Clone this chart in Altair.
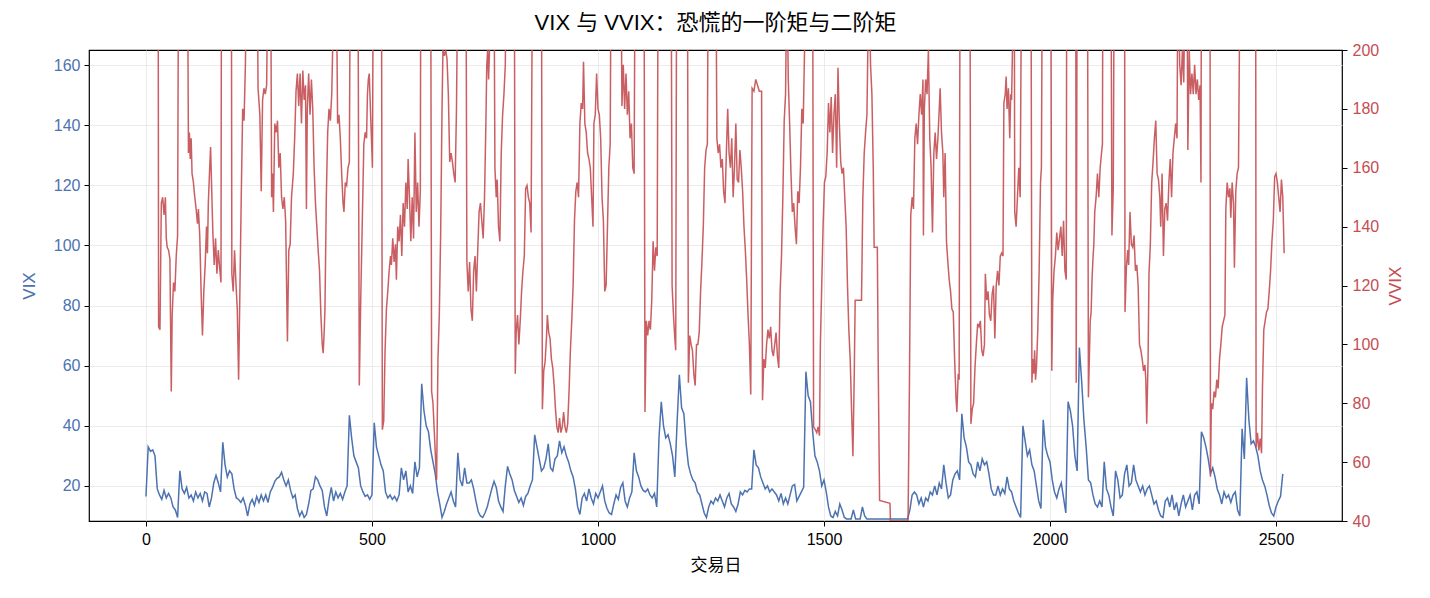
import altair as alt
import pandas as pd

# VIX close, one value every 5 trading days (day 0, 5, 10, ... 2515)
VIX_STEP = 5
VIX = [
    16.5, 33, 31.5, 32, 30, 19, 17, 15.5, 18.5, 16, 17.5, 16, 13, 12, 9.5, 25, 19, 17.5, 19.5, 16,
    17, 15, 18, 16, 17.5, 15, 18, 17.5, 13, 16, 21, 23.5, 21, 18, 34.5, 27, 23, 25, 24, 19,
    16, 15.5, 14.5, 16, 13.5, 10, 14, 15.5, 13.5, 16.5, 14.5, 17, 15, 17, 14.5, 18, 19.5, 21.5, 22.5, 23,
    24.5, 22, 20, 22, 18.5, 16, 17, 12.5, 10, 11.5, 9.5, 10.5, 14, 18.5, 19, 23, 22, 20, 18.5, 13,
    10, 15.5, 19.5, 15, 18, 16, 17.5, 15.5, 18, 20, 43.5, 36, 30, 28, 26, 20, 18, 16.5, 17, 15.5,
    17, 41, 33, 30, 27, 25, 18, 16, 17, 15.5, 16.5, 15, 17, 26, 22, 25, 18, 20, 17.5, 28,
    23, 26, 54, 45, 40, 38, 32, 28, 24, 18, 14, 9.5, 11.5, 14, 16, 18, 15, 13, 31, 22,
    20, 26, 21, 21, 22, 19, 15, 11.5, 10, 9.5, 11, 13, 16, 19, 21.5, 19.5, 15, 13, 11.5, 20,
    26.5, 24, 22, 18.5, 16.5, 14.5, 16, 13.5, 16.5, 17.5, 20, 22, 37, 33, 29, 25, 26, 29, 34, 26,
    25, 29, 30, 35, 31, 33, 30, 28, 25, 23, 19, 13, 10.5, 16, 17.5, 15, 19, 16, 14, 17.5,
    16, 18, 20, 15, 12.5, 11, 10.5, 14, 17, 15.5, 19.5, 21, 15, 13, 16, 18, 31, 25, 23, 20,
    18.5, 18, 19, 17, 16, 17.5, 13, 36, 48, 40, 36, 37, 34, 30, 23, 41, 57, 46, 44, 34,
    27, 24, 22, 21, 18, 17, 14, 11, 9.5, 13, 15, 14, 16, 15, 17, 15, 13, 16, 17.5, 14,
    13, 11.5, 14, 18, 17, 18.5, 18, 19, 19, 32, 27, 26, 23, 21, 19, 20, 18, 19, 18, 17,
    15, 17.5, 14, 16, 14, 17, 20, 20.5, 15, 16.5, 18, 19.5, 58, 50, 48, 38, 30, 28, 25, 20,
    22, 18, 13, 10, 9.5, 11.5, 10, 14, 12, 9.5, 9, 9, 9, 12, 9, 9, 9, 13, 10, 9,
    9, 9, 9, 9, 9, 9, 9, 9, 9, 9, 9, 9, 9, 9, 9, 9, 9, 9, 12, 17,
    18, 17, 14, 16, 13, 16, 15, 18, 17, 20, 17, 21, 19, 27, 21, 16, 17, 22, 24, 25,
    22, 44, 36, 33, 28, 27, 24, 23, 28, 25, 29, 27, 28, 24, 19, 17, 17, 20, 17, 19,
    17.5, 23, 19, 18, 15, 13, 11, 9.5, 40, 35, 30, 32, 27, 25, 20, 15, 12.5, 42, 33, 30,
    28, 22, 18, 16, 19, 21, 16, 11, 48, 45, 40, 30, 25, 66, 55, 42, 33, 22, 21, 17,
    14, 13, 15, 13, 28, 19, 17, 13, 10, 25, 22, 16, 17, 24, 27, 20, 21, 27, 22, 20,
    18, 20, 17, 19, 20, 17, 14, 15, 12, 10, 9.5, 15, 16, 13, 17, 12, 14.5, 10, 14, 17,
    13, 15, 17, 12, 17, 18, 14, 38, 36, 33, 29, 24, 26, 23, 19, 17, 14, 18, 16, 17,
    14.5, 17, 18, 12, 10, 39, 29, 56, 42, 34, 35, 33, 30, 25, 22, 20, 17, 13.5, 11, 10,
    13, 15, 16.5, 24,
]

# VVIX turning points (day, level); readings above 200 run off the top of the panel
VVIX_POINTS = [
    (27, 230), (28, 106), (31, 105), (34, 148), (37, 150), (40, 144), (43, 150), (45, 136), (47, 133),
    (50, 132), (53, 129), (56, 84), (58, 110), (61, 121), (64, 118), (67, 130), (70, 137), (72, 230),
    (92, 230), (94, 165), (96, 172), (98, 163), (100, 170), (102, 158), (105, 155), (108, 150), (111, 146),
    (114, 141), (116, 146), (119, 137), (122, 118), (125, 103), (128, 118), (131, 127), (134, 140),
    (136, 131), (138, 148), (141, 160), (143, 167), (145, 155), (148, 138), (151, 127), (154, 136),
    (157, 124), (160, 132), (163, 126), (166, 121), (167, 230),
    (189, 230), (190, 124), (193, 118), (196, 132), (199, 121), (202, 112), (205, 88), (208, 120),
    (211, 152), (214, 180), (217, 176), (220, 195), (223, 230),
    (246, 230), (248, 187), (252, 178), (255, 152), (258, 183), (261, 187), (264, 185), (267, 188), (270, 230),
    (276, 230), (278, 150), (280, 158), (282, 145), (285, 175), (288, 172), (291, 176), (294, 160),
    (297, 165), (300, 150), (303, 146), (306, 150), (309, 142), (313, 101), (316, 132), (319, 134),
    (322, 150), (326, 158), (329, 170), (332, 186), (335, 192), (338, 181), (341, 192), (344, 175),
    (347, 193), (350, 183), (353, 188), (355, 146), (357, 180), (360, 192), (363, 178), (366, 190),
    (369, 180), (372, 160), (375, 148), (378, 140), (381, 132), (384, 125), (387, 110), (390, 100),
    (392, 97), (394, 103), (396, 112), (399, 150), (402, 172), (405, 180), (408, 176), (411, 185),
    (413, 200), (415, 230),
    (421, 230), (424, 175), (427, 178), (430, 170), (433, 158), (436, 148), (438, 145), (441, 155),
    (444, 154), (447, 160), (450, 162), (452, 230),
    (469, 230), (472, 86), (475, 114), (479, 145), (482, 168), (485, 172), (488, 170), (490, 185),
    (492, 190), (494, 192), (497, 178), (500, 165), (501, 160), (503, 230),
    (521, 230), (523, 71), (526, 74), (529, 98), (532, 112), (535, 118), (538, 125), (541, 130),
    (543, 127), (546, 136), (549, 128), (552, 134), (554, 122), (557, 140), (560, 135), (563, 144),
    (566, 130), (569, 148), (572, 140), (575, 155), (578, 146), (580, 163), (583, 150), (586, 135),
    (589, 150), (592, 136), (595, 172), (598, 145), (601, 155), (604, 140), (607, 152), (608, 230),
    (630, 230), (632, 84), (635, 80), (638, 70), (641, 60), (643, 54), (646, 95), (649, 110),
    (652, 138), (655, 180), (657, 200), (660, 198), (663, 200), (666, 197), (669, 185), (672, 162),
    (675, 165), (678, 162), (681, 158), (684, 155), (687, 180), (690, 230),
    (708, 230), (710, 128), (713, 118), (716, 128), (719, 112), (722, 108), (725, 125), (728, 130),
    (731, 118), (734, 132), (737, 145), (740, 148), (743, 142), (746, 136), (749, 150), (752, 175),
    (754, 195), (756, 200), (758, 190), (760, 200), (763, 230),
    (770, 230), (772, 160), (775, 150), (777, 156), (780, 140), (783, 135), (786, 165), (789, 178),
    (792, 185), (795, 195), (797, 230),
    (815, 230), (817, 90), (819, 104), (822, 110), (825, 100), (828, 108), (831, 118), (834, 125),
    (837, 130), (840, 153), (843, 154), (846, 150), (849, 148), (852, 138), (855, 230),
    (875, 230), (877, 78), (880, 91), (883, 94), (886, 102), (888, 110), (891, 104), (894, 102),
    (897, 95), (900, 92), (903, 86), (906, 78), (909, 72), (912, 70), (915, 75), (918, 70), (921, 72),
    (924, 77), (927, 72), (930, 70), (933, 73), (936, 84), (939, 98), (942, 108), (945, 120),
    (948, 142), (951, 152), (954, 155), (957, 150), (960, 175), (963, 182), (966, 180), (968, 196),
    (971, 175), (974, 172), (977, 165), (980, 163), (983, 160), (986, 150), (989, 140), (991, 175),
    (994, 178), (997, 192), (1000, 180), (1003, 178), (1006, 170), (1009, 150), (1012, 142),
    (1015, 118), (1018, 120), (1021, 140), (1024, 160), (1027, 168), (1029, 230),
    (1051, 230), (1053, 181), (1056, 195), (1059, 180), (1062, 192), (1065, 178), (1068, 186),
    (1071, 170), (1074, 175), (1077, 160), (1080, 158), (1082, 230),
    (1102, 230), (1104, 77), (1107, 108), (1110, 103), (1113, 108), (1116, 105), (1119, 115),
    (1122, 135), (1125, 125), (1128, 133), (1131, 130), (1133, 230),
    (1162, 230), (1164, 120), (1167, 110), (1170, 102), (1172, 98), (1174, 230),
    (1198, 230), (1200, 87), (1203, 103), (1206, 100), (1209, 98), (1212, 90), (1215, 86), (1218, 100),
    (1221, 100), (1224, 104), (1227, 118), (1230, 128), (1233, 140), (1236, 160), (1239, 166),
    (1242, 168), (1244, 230),
    (1261, 230), (1263, 170), (1266, 165), (1269, 168), (1272, 160), (1275, 163), (1278, 152),
    (1281, 148), (1284, 165), (1287, 180), (1290, 165), (1293, 160), (1296, 170), (1299, 150),
    (1302, 160), (1305, 175), (1308, 156), (1311, 155), (1314, 166), (1317, 160), (1320, 152),
    (1323, 140), (1326, 132), (1329, 122), (1332, 110), (1335, 100), (1338, 83), (1341, 187),
    (1345, 186), (1349, 190), (1353, 188), (1357, 186), (1362, 186), (1364, 81), (1367, 95),
    (1370, 92), (1373, 100), (1376, 105), (1379, 102), (1382, 106), (1385, 98), (1388, 96),
    (1391, 100), (1394, 104), (1397, 96), (1400, 92), (1403, 118), (1406, 130), (1409, 150),
    (1412, 176), (1415, 185), (1418, 230), (1421, 190), (1424, 175), (1427, 158), (1430, 145),
    (1433, 148), (1436, 140), (1439, 134), (1442, 152), (1445, 148), (1448, 160), (1451, 180),
    (1454, 175), (1457, 200), (1458, 230),
    (1475, 230), (1477, 72), (1481, 71), (1484, 70), (1487, 72), (1490, 69), (1492, 100), (1495, 120),
    (1498, 140), (1501, 155), (1504, 157), (1507, 165), (1510, 182), (1513, 172), (1516, 184),
    (1519, 165), (1522, 178), (1525, 185), (1528, 160), (1531, 194), (1534, 175), (1537, 162),
    (1540, 158), (1543, 160), (1546, 150), (1549, 140), (1552, 120), (1555, 105), (1558, 95),
    (1561, 78), (1564, 62), (1567, 90), (1569, 115), (1583, 115), (1586, 150), (1589, 165),
    (1592, 172), (1595, 178), (1597, 200), (1599, 230), (1603, 195), (1606, 185), (1609, 160),
    (1611, 133), (1618, 133), (1620, 93), (1623, 47), (1646, 46), (1647, 40), (1686, 40),
    (1689, 86), (1692, 144), (1695, 150), (1698, 146), (1701, 170), (1704, 175), (1707, 168),
    (1710, 178), (1713, 185), (1716, 178), (1719, 190), (1720, 137), (1722, 180), (1725, 190),
    (1728, 185), (1731, 200), (1734, 170), (1737, 160), (1740, 138), (1743, 165), (1746, 172),
    (1749, 163), (1752, 170), (1755, 180), (1757, 187), (1760, 172), (1763, 165), (1765, 150),
    (1768, 165), (1771, 135), (1774, 128), (1777, 122), (1780, 118), (1783, 112), (1786, 111),
    (1789, 95), (1792, 82), (1794, 77), (1797, 90), (1799, 88), (1801, 230),
    (1823, 230), (1825, 73), (1828, 78), (1831, 80), (1834, 92), (1837, 100), (1840, 107),
    (1843, 106), (1846, 108), (1849, 98), (1852, 96), (1855, 100), (1857, 124), (1860, 115),
    (1863, 118), (1866, 110), (1869, 108), (1872, 117), (1875, 120), (1878, 102), (1881, 120),
    (1884, 125), (1887, 120), (1890, 130), (1893, 131), (1896, 130), (1898, 182), (1901, 185),
    (1903, 191), (1905, 180), (1908, 187), (1911, 170), (1913, 185), (1915, 183), (1917, 200),
    (1918, 230),
    (1921, 230), (1922, 145), (1925, 140), (1928, 150), (1931, 160), (1934, 150), (1936, 200), (1937, 230),
    (1958, 230), (1960, 87), (1962, 95), (1964, 90), (1966, 98), (1968, 88), (1970, 92), (1973, 105),
    (1976, 125), (1979, 155), (1981, 160), (1983, 230),
    (2002, 230), (2004, 91), (2006, 115), (2009, 125), (2012, 130), (2015, 138), (2018, 132),
    (2021, 136), (2024, 140), (2027, 130), (2030, 142), (2033, 125), (2036, 122), (2037, 230),
    (2057, 230), (2058, 87), (2060, 230),
    (2083, 230), (2085, 82), (2087, 95), (2089, 108), (2091, 111), (2093, 122), (2095, 129),
    (2097, 134), (2099, 145), (2102, 150), (2105, 158), (2108, 150), (2111, 160), (2114, 165),
    (2116, 168), (2117, 230),
    (2135, 230), (2137, 137), (2140, 153), (2142, 230),
    (2165, 230), (2166, 111), (2169, 126), (2172, 132), (2174, 127), (2177, 145), (2180, 134),
    (2183, 133), (2186, 137), (2189, 125), (2192, 127), (2195, 120), (2198, 100), (2201, 98),
    (2204, 95), (2207, 91), (2210, 93), (2212, 88), (2214, 73), (2217, 95), (2219, 124), (2222, 134),
    (2225, 155), (2228, 162), (2231, 170), (2234, 176), (2237, 158), (2240, 156), (2243, 150),
    (2245, 140), (2248, 158), (2251, 130), (2254, 146), (2257, 148), (2260, 142), (2263, 155),
    (2266, 163), (2269, 150), (2272, 165), (2275, 170), (2278, 175), (2281, 170), (2283, 230),
    (2287, 195), (2290, 188), (2293, 200), (2296, 189), (2299, 230),
    (2303, 230), (2305, 166), (2308, 200), (2311, 185), (2314, 192), (2317, 185), (2320, 195),
    (2323, 185), (2326, 190), (2329, 183), (2332, 188), (2334, 155), (2335, 230),
    (2354, 230), (2355, 55), (2357, 80), (2360, 78), (2363, 84), (2366, 82), (2369, 88), (2372, 85),
    (2375, 95), (2378, 100), (2381, 106), (2384, 108), (2387, 110), (2389, 146), (2392, 155),
    (2395, 150), (2398, 153), (2400, 143), (2403, 155), (2406, 148), (2408, 126), (2411, 152),
    (2414, 158), (2417, 160), (2419, 200), (2420, 230),
    (2455, 230), (2456, 65), (2459, 70), (2462, 64), (2465, 68), (2468, 63), (2470, 85), (2473, 105),
    (2476, 108), (2479, 111), (2482, 112), (2485, 118), (2488, 125), (2491, 135), (2494, 142),
    (2497, 157), (2500, 158), (2503, 155), (2506, 150), (2509, 145), (2512, 156), (2515, 150),
    (2518, 131),
]

X_TICKS = [0, 500, 1000, 1500, 2000, 2500]
VIX_TICKS = [20, 40, 60, 80, 100, 120, 140, 160]
VVIX_TICKS = [40, 60, 80, 100, 120, 140, 160, 180, 200]

FONT = "Liberation Sans, Arial, Noto Sans CJK SC"
BLUE = "#4c72b0"
RED = "#c44e52"
GRID = "#e6e6e6"
LABEL_SIZE = 16
TITLE_SIZE = 17

vix_df = pd.DataFrame({"day": [i * VIX_STEP for i in range(len(VIX))], "vix": VIX})
vvix_df = pd.DataFrame(VVIX_POINTS, columns=["day", "vvix"])

common_axis = dict(
    labelFontSize=LABEL_SIZE, titleFontSize=TITLE_SIZE, titleFontWeight="normal",
    tickSize=5, tickColor="black", domain=False, labelFont=FONT, titleFont=FONT,
)

x_enc = alt.X(
    "day:Q",
    scale=alt.Scale(domain=[-126, 2646], nice=False, zero=False),
    axis=alt.Axis(
        values=X_TICKS, format="d", title="交易日", grid=True, gridColor=GRID,
        gridWidth=0.8, labelColor="black", titleColor="black",
        titlePadding=10, labelPadding=5, **common_axis,
    ),
)

vix_line = alt.Chart(vix_df).mark_line(color=BLUE, strokeWidth=1.5, clip=True).encode(
    x=x_enc,
    y=alt.Y(
        "vix:Q",
        scale=alt.Scale(domain=[8.33, 165], nice=False, zero=False),
        axis=alt.Axis(
            orient="left", values=VIX_TICKS, title="VIX", grid=True, gridColor=GRID,
            gridWidth=0.8, labelColor=BLUE, titleColor=BLUE,
            titlePadding=15, labelPadding=4, **common_axis,
        ),
    ),
)

vvix_line = alt.Chart(vvix_df).mark_line(color=RED, strokeWidth=1.5, opacity=0.9, clip=True).encode(
    x=alt.X("day:Q"),
    y=alt.Y(
        "vvix:Q",
        scale=alt.Scale(domain=[40, 200], nice=False, zero=False),
        axis=alt.Axis(
            orient="right", values=VVIX_TICKS, title="VVIX", grid=False,
            labelColor=RED, titleColor=RED, titleAngle=270, titleBaseline="top",
            titlePadding=9, labelPadding=5, **common_axis,
        ),
    ),
)

chart = (
    alt.layer(vix_line, vvix_line)
    .resolve_scale(y="independent")
    .properties(
        width=1253,
        height=471,
        background="white",
        autosize=alt.AutoSizeParams(type="none"),
        padding={"left": 89, "top": 50, "right": 88, "bottom": 77},
        title=alt.TitleParams(
            "VIX 与 VVIX：恐慌的一阶矩与二阶矩", font=FONT, fontSize=22,
            fontWeight="normal", color="black", anchor="middle", offset=7,
        ),
    )
    .configure_view(stroke="black", strokeWidth=1.2)
)

chart.save("out.html", embed_options={"renderer": "svg", "actions": False})
